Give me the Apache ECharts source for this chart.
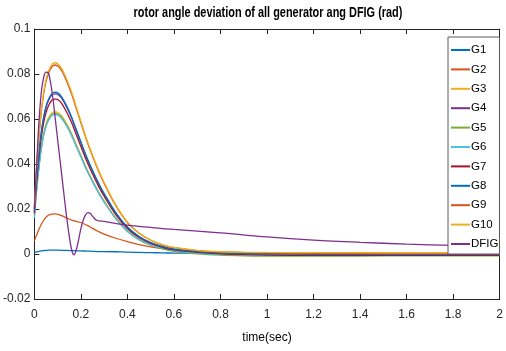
<!DOCTYPE html>
<html>
<head>
<meta charset="utf-8">
<script src="https://cdn.jsdelivr.net/npm/echarts@6/dist/echarts.min.js"></script>
<style>
  html, body { margin: 0; padding: 0; background: #fff; }
  #chart { width: 506px; height: 351px; }
</style>
</head>
<body>
<div id="chart"></div>
<script>
// Sample times (s) shared by the generator traces
const timeGen = [0, 0.01, 0.02, 0.03, 0.04, 0.05, 0.06, 0.075, 0.09, 0.105, 0.12, 0.14, 0.16, 0.18, 0.2, 0.225, 0.25, 0.275, 0.3, 0.35, 0.4, 0.45, 0.5, 0.55, 0.6, 0.7, 0.8, 0.9, 1.0, 1.2, 1.4, 1.6, 1.8, 2.0];

// Rotor angle deviation (rad) of each generator
const g1  = [0.0005, 0.0009, 0.0012, 0.0014, 0.0015, 0.0016, 0.0017, 0.0017, 0.0017, 0.0017, 0.0016, 0.0016, 0.0015, 0.0014, 0.0014, 0.0013, 0.0012, 0.0011, 0.0011, 0.0010, 0.0008, 0.0007, 0.0006, 0.0005, 0.0004, 0.0003, 0.0002, 0.0002, 0.0001, 0.0001, 0.0, 0.0, 0.0, 0.0];
const g2  = [0.0058, 0.0085, 0.0110, 0.0132, 0.0150, 0.0163, 0.0172, 0.0177, 0.0178, 0.0175, 0.0169, 0.0160, 0.0151, 0.0145, 0.0140, 0.0128, 0.0114, 0.0100, 0.0088, 0.0070, 0.0055, 0.0042, 0.0032, 0.0024, 0.0019, 0.0012, 0.0008, 0.0006, 0.0005, 0.0004, 0.0003, 0.0003, 0.0003, 0.0003];
const g3  = [0.0170, 0.0295, 0.0395, 0.0476, 0.0536, 0.0577, 0.0603, 0.0627, 0.0632, 0.0627, 0.0610, 0.0577, 0.0536, 0.0487, 0.0439, 0.0379, 0.0327, 0.0278, 0.0236, 0.0161, 0.0104, 0.0068, 0.0045, 0.0030, 0.0020, 0.0010, 0.0005, 0.0003, 0.0002, 0.0002, 0.0002, 0.0002, 0.0002, 0.0002];
const g4  = [0.0185, 0.0332, 0.0445, 0.0538, 0.0604, 0.0650, 0.0680, 0.0706, 0.0712, 0.0706, 0.0688, 0.0650, 0.0604, 0.0549, 0.0494, 0.0427, 0.0368, 0.0314, 0.0266, 0.0182, 0.0118, 0.0077, 0.0050, 0.0033, 0.0021, 0.0010, 0.0004, 0.0001, 0.0, -0.0001, -0.0002, -0.0002, -0.0002, -0.0002];
const g5  = [0.0165, 0.0290, 0.0390, 0.0470, 0.0529, 0.0570, 0.0596, 0.0619, 0.0625, 0.0619, 0.0603, 0.0570, 0.0529, 0.0481, 0.0434, 0.0375, 0.0323, 0.0275, 0.0232, 0.0157, 0.0100, 0.0063, 0.0039, 0.0023, 0.0012, 0.0001, -0.0005, -0.0008, -0.0009, -0.0009, -0.0009, -0.0008, -0.0008, -0.0008];
const g6  = [0.0160, 0.0287, 0.0387, 0.0467, 0.0526, 0.0566, 0.0591, 0.0615, 0.0620, 0.0615, 0.0598, 0.0566, 0.0526, 0.0478, 0.0431, 0.0372, 0.0321, 0.0273, 0.0231, 0.0157, 0.0101, 0.0065, 0.0041, 0.0026, 0.0015, 0.0004, -0.0002, -0.0004, -0.0005, -0.0005, -0.0005, -0.0004, -0.0004, -0.0004];
const g7  = [0.0180, 0.0320, 0.0430, 0.0519, 0.0584, 0.0628, 0.0657, 0.0683, 0.0688, 0.0683, 0.0665, 0.0628, 0.0584, 0.0531, 0.0478, 0.0413, 0.0356, 0.0303, 0.0257, 0.0175, 0.0113, 0.0073, 0.0047, 0.0030, 0.0018, 0.0007, 0.0001, -0.0003, -0.0005, -0.0006, -0.0006, -0.0006, -0.0006, -0.0006];
const g8  = [0.0190, 0.0335, 0.0450, 0.0543, 0.0610, 0.0656, 0.0686, 0.0713, 0.0719, 0.0713, 0.0694, 0.0656, 0.0609, 0.0554, 0.0499, 0.0431, 0.0372, 0.0317, 0.0269, 0.0184, 0.0120, 0.0078, 0.0051, 0.0034, 0.0022, 0.0011, 0.0005, 0.0002, 0.0001, 0.0, 0.0, 0.0, 0.0, 0.0];
const g9  = [0.0205, 0.0387, 0.0524, 0.0632, 0.0711, 0.0766, 0.0800, 0.0832, 0.0840, 0.0832, 0.0810, 0.0766, 0.0711, 0.0647, 0.0583, 0.0504, 0.0435, 0.0370, 0.0314, 0.0215, 0.0140, 0.0092, 0.0061, 0.0041, 0.0028, 0.0015, 0.0009, 0.0006, 0.0005, 0.0004, 0.0003, 0.0003, 0.0003, 0.0003];
const g10 = [0.0200, 0.0390, 0.0530, 0.0640, 0.0720, 0.0775, 0.0810, 0.0842, 0.0850, 0.0842, 0.0820, 0.0775, 0.0720, 0.0655, 0.0590, 0.0510, 0.0440, 0.0375, 0.0318, 0.0218, 0.0142, 0.0093, 0.0062, 0.0042, 0.0029, 0.0016, 0.0010, 0.0008, 0.0007, 0.0006, 0.0006, 0.0005, 0.0005, 0.0005];

// DFIG trace has its own, denser time sampling around the oscillation
const timeDfig = [0, 0.005, 0.01, 0.015, 0.02, 0.03, 0.04, 0.05, 0.06, 0.07, 0.08, 0.09, 0.1, 0.11, 0.12, 0.13, 0.14, 0.15, 0.16, 0.17, 0.18, 0.19, 0.2, 0.21, 0.22, 0.23, 0.24, 0.25, 0.26, 0.27, 0.28, 0.3, 0.4, 0.5, 0.6, 0.8, 1.0, 1.2, 1.4, 1.6, 1.8, 2.0];
const dfig = [0.020, 0.030, 0.040, 0.050, 0.059, 0.072, 0.0785, 0.0808, 0.0805, 0.0760, 0.0690, 0.0600, 0.0510, 0.0420, 0.0330, 0.0240, 0.0155, 0.0080, 0.0020, -0.0004, 0.0018, 0.0062, 0.0113, 0.0150, 0.0174, 0.0184, 0.0181, 0.0168, 0.0156, 0.0149, 0.0147, 0.0145, 0.0128, 0.0118, 0.0109, 0.0094, 0.0076, 0.0062, 0.0052, 0.0044, 0.0038, 0.0033];

const seriesNames = ['G1', 'G2', 'G3', 'G4', 'G5', 'G6', 'G7', 'G8', 'G9', 'G10', 'DFIG'];
const seriesColors = ['#0072BD', '#D95319', '#EDB120', '#7E2F8E', '#77AC30', '#4DBEEE', '#A2142F', '#0072BD', '#D95319', '#EDB120', '#7E2F8E'];

const titleText = 'rotor angle deviation of all generator ang DFIG (rad)';
const xAxisName = 'time(sec)';

const xTicks = { min: 0, max: 2, interval: 0.2 };
const yTicks = { min: -0.02, max: 0.1, interval: 0.02 };

const FONT = '"Liberation Sans", Arial, sans-serif';
const AXIS_COLOR = '#262626';

const genValues = [g1, g2, g3, g4, g5, g6, g7, g8, g9, g10];
const pairs = (ts, vs) => ts.map((t, i) => [t, vs[i]]);

const series = seriesNames.map((name, i) => ({
  name,
  type: 'line',
  data: i < 10 ? pairs(timeGen, genValues[i]) : pairs(timeDfig, dfig),
  symbol: 'none',
  smooth: 0.35,
  lineStyle: { width: 1.3, color: seriesColors[i] },
  itemStyle: { color: seriesColors[i] },
  emphasis: { disabled: true },
  animation: false,
  z: 2
}));

const fmt = v => String(+v.toFixed(2));

const chart = echarts.init(document.getElementById('chart'), null, { renderer: 'canvas' });
chart.setOption({
  animation: false,
  backgroundColor: '#fff',
  // condensed bold heading, centred over the plot area
  graphic: [{
    type: 'text',
    x: 268, y: 13,
    scaleX: 0.78,
    style: {
      text: titleText,
      font: 'bold 14px "Liberation Sans", Arial, sans-serif',
      fill: '#000',
      align: 'center',
      verticalAlign: 'middle'
    },
    silent: true
  }],
  grid: { left: 32, right: 2, top: 29, bottom: 52, containLabel: false },
  legend: {
    data: seriesNames,
    orient: 'vertical',
    left: 448, top: 37,
    itemWidth: 19, itemHeight: 12, itemGap: 7.4,
    padding: [7, 1, 4, 2],
    backgroundColor: '#fff',
    borderColor: '#5a5a5a', borderWidth: 1,
    itemStyle: { opacity: 0 },
    textStyle: { fontFamily: FONT, fontSize: 11.5, lineHeight: 12, color: '#000', padding: [0, 0, 0, -4] },
    selectedMode: false
  },
  xAxis: [
    {
      type: 'value', min: xTicks.min, max: xTicks.max, interval: xTicks.interval,
      name: xAxisName, nameLocation: 'middle', nameGap: 33,
      nameTextStyle: { fontFamily: FONT, fontSize: 12, color: '#000' },
      axisLine: { onZero: false, lineStyle: { color: AXIS_COLOR, width: 1 } },
      axisTick: { inside: true, length: 5, lineStyle: { color: AXIS_COLOR } },
      axisLabel: { fontFamily: FONT, fontSize: 12, color: '#262626', margin: 10, formatter: fmt },
      splitLine: { show: false }
    },
    {
      type: 'value', position: 'top', min: xTicks.min, max: xTicks.max, interval: xTicks.interval,
      axisLine: { onZero: false, lineStyle: { color: AXIS_COLOR, width: 1 } },
      axisTick: { inside: true, length: 5, lineStyle: { color: AXIS_COLOR } },
      axisLabel: { show: false },
      splitLine: { show: false }
    }
  ],
  yAxis: [
    {
      type: 'value', min: yTicks.min, max: yTicks.max, interval: yTicks.interval,
      axisLine: { show: true, onZero: false, lineStyle: { color: AXIS_COLOR, width: 1 } },
      axisTick: { show: true, inside: true, length: 5, lineStyle: { color: AXIS_COLOR } },
      axisLabel: { fontFamily: FONT, fontSize: 12, color: '#262626', margin: 4, formatter: fmt },
      splitLine: { show: false }
    },
    {
      type: 'value', position: 'right', min: yTicks.min, max: yTicks.max, interval: yTicks.interval,
      axisLine: { show: true, onZero: false, lineStyle: { color: AXIS_COLOR, width: 1 } },
      axisTick: { show: true, inside: true, length: 5, lineStyle: { color: AXIS_COLOR } },
      axisLabel: { show: false },
      splitLine: { show: false }
    }
  ],
  series
});
</script>
</body>
</html>
